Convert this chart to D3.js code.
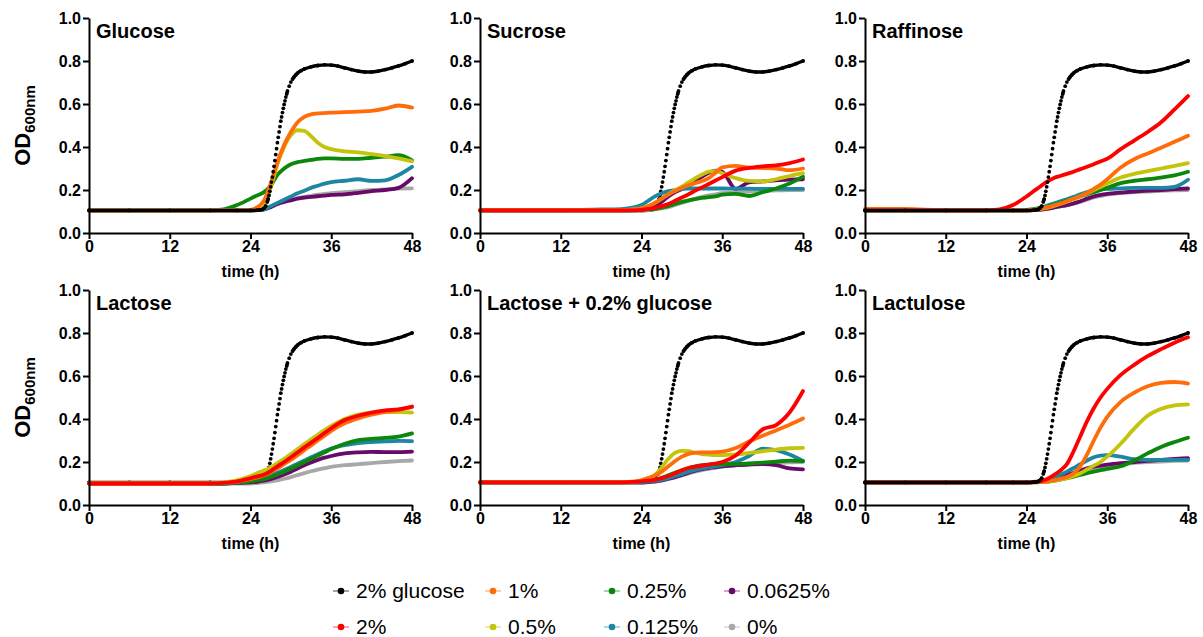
<!DOCTYPE html>
<html>
<head>
<meta charset="utf-8">
<script src="https://cdn.jsdelivr.net/npm/d3@7"></script>
<style>
  body { margin: 0; background: #fff; }
  svg { display: block; font-family: "Liberation Sans", Arial, sans-serif; }
</style>
</head>
<body>
<svg id="chart" width="1203" height="637"></svg>
<script>
// Sampling times (h) for the sugar series
const hours = [0, 6, 12, 18, 20, 22, 24, 25, 26, 27, 28, 29, 30, 31, 32, 33, 34, 35, 36, 38, 40, 42, 44, 46, 48];

// 2% glucose control, same in every panel (denser sampling through the exponential phase)
const controlHours = [0, 6, 12, 18, 22, 24, 25, 25.5, 25.75, 26, 26.25, 26.5, 26.625, 26.75, 26.875,
  27, 27.125, 27.25, 27.375, 27.5, 27.625, 27.75, 27.875, 28, 28.125, 28.25, 28.375, 28.5, 28.625,
  28.75, 28.875, 29, 29.125, 29.25, 29.375, 29.5, 29.75, 30, 30.25, 30.5, 30.75, 31, 31.5, 32,
  33, 34, 35, 36, 37, 38, 39, 40, 41, 42, 43, 44, 45, 46, 47, 48];
const controlOD = [0.105, 0.105, 0.105, 0.105, 0.105, 0.105, 0.106, 0.108, 0.11, 0.115, 0.125, 0.145, 0.158, 0.175, 0.194,
  0.215, 0.237, 0.26, 0.285, 0.31, 0.337, 0.365, 0.392, 0.42, 0.445, 0.47, 0.495, 0.52, 0.54,
  0.56, 0.58, 0.598, 0.615, 0.632, 0.647, 0.66, 0.683, 0.702, 0.716, 0.727, 0.736, 0.744, 0.755, 0.763,
  0.773, 0.779, 0.782, 0.781, 0.776, 0.768, 0.76, 0.753, 0.749, 0.749, 0.753, 0.76, 0.768, 0.777, 0.788, 0.8];

const controlName = "2% glucose";
const seriesNames = ["2%", "1%", "0.5%", "0.25%", "0.125%", "0.0625%", "0%"];
const seriesColors = ["#ff0000", "#ff6d0a", "#c4c40c", "#0b870b", "#1d87a3", "#680a68", "#a8a8a8"];
const controlColor = "#000000";

const panelTitles = ["Glucose", "Sucrose", "Raffinose", "Lactose", "Lactose + 0.2% glucose", "Lactulose"];
const controlOnTop = [true, false, true, false, false, true];

// OD600 per sugar, one row per concentration in seriesNames order
const glucoseOD = [
  null,
  [0.105,0.105,0.105,0.105,0.105,0.105,0.108,0.12,0.15,0.23,0.33,0.41,0.47,0.515,0.54,0.552,0.556,0.558,0.56,0.562,0.565,0.568,0.578,0.593,0.583],
  [0.105,0.105,0.105,0.105,0.105,0.105,0.105,0.105,0.12,0.21,0.32,0.40,0.455,0.478,0.475,0.45,0.42,0.40,0.39,0.38,0.375,0.367,0.358,0.347,0.333],
  [0.105,0.105,0.105,0.105,0.11,0.13,0.16,0.175,0.19,0.22,0.27,0.30,0.32,0.33,0.335,0.34,0.345,0.347,0.347,0.345,0.345,0.35,0.355,0.362,0.338],
  [0.105,0.105,0.105,0.105,0.105,0.105,0.105,0.107,0.11,0.125,0.14,0.155,0.17,0.185,0.197,0.21,0.22,0.23,0.237,0.243,0.25,0.242,0.245,0.27,0.308],
  [0.105,0.105,0.105,0.105,0.105,0.105,0.105,0.106,0.11,0.12,0.135,0.145,0.152,0.16,0.165,0.168,0.171,0.174,0.177,0.18,0.187,0.195,0.2,0.21,0.255],
  [0.105,0.105,0.105,0.105,0.105,0.105,0.105,0.107,0.11,0.122,0.135,0.145,0.155,0.162,0.168,0.173,0.178,0.182,0.185,0.19,0.195,0.2,0.203,0.206,0.208]
];
const sucroseOD = [
  [0.105,0.105,0.105,0.105,0.105,0.105,0.108,0.112,0.117,0.125,0.135,0.15,0.165,0.18,0.197,0.212,0.228,0.244,0.26,0.29,0.303,0.31,0.315,0.325,0.342],
  [0.105,0.105,0.105,0.105,0.105,0.108,0.115,0.125,0.14,0.16,0.18,0.195,0.21,0.222,0.232,0.242,0.255,0.28,0.305,0.312,0.304,0.302,0.3,0.292,0.3],
  [0.105,0.105,0.105,0.105,0.105,0.108,0.115,0.125,0.14,0.16,0.18,0.2,0.215,0.235,0.255,0.272,0.285,0.288,0.278,0.255,0.242,0.24,0.25,0.265,0.278],
  [0.105,0.105,0.105,0.105,0.105,0.105,0.107,0.11,0.112,0.118,0.125,0.135,0.145,0.152,0.158,0.163,0.167,0.17,0.178,0.182,0.172,0.19,0.207,0.23,0.262],
  [0.105,0.105,0.105,0.11,0.11,0.115,0.13,0.15,0.17,0.185,0.195,0.2,0.205,0.207,0.207,0.207,0.207,0.207,0.207,0.206,0.206,0.205,0.205,0.205,0.205],
  [0.105,0.105,0.105,0.105,0.105,0.106,0.11,0.115,0.125,0.145,0.17,0.19,0.205,0.22,0.24,0.262,0.28,0.29,0.285,0.205,0.235,0.24,0.245,0.248,0.25],
  [0.105,0.105,0.105,0.105,0.105,0.105,0.105,0.107,0.11,0.115,0.12,0.13,0.14,0.15,0.16,0.168,0.175,0.18,0.185,0.19,0.193,0.196,0.198,0.2,0.2]
];
const raffinoseOD = [
  [0.105,0.105,0.105,0.105,0.11,0.13,0.17,0.193,0.215,0.238,0.255,0.265,0.275,0.285,0.297,0.308,0.32,0.333,0.345,0.39,0.43,0.47,0.515,0.575,0.637],
  [0.112,0.112,0.105,0.105,0.105,0.105,0.106,0.108,0.113,0.12,0.128,0.137,0.148,0.16,0.172,0.187,0.205,0.225,0.25,0.305,0.343,0.37,0.396,0.424,0.452],
  [0.105,0.105,0.105,0.105,0.105,0.105,0.105,0.107,0.11,0.117,0.125,0.135,0.145,0.157,0.17,0.185,0.2,0.215,0.23,0.258,0.275,0.288,0.3,0.312,0.325],
  [0.105,0.105,0.105,0.105,0.105,0.105,0.107,0.11,0.115,0.122,0.13,0.14,0.15,0.16,0.17,0.18,0.19,0.2,0.21,0.232,0.243,0.25,0.258,0.268,0.285],
  [0.105,0.105,0.105,0.105,0.105,0.105,0.107,0.11,0.118,0.127,0.137,0.147,0.157,0.168,0.18,0.19,0.197,0.202,0.205,0.207,0.21,0.21,0.21,0.215,0.248],
  [0.105,0.105,0.105,0.105,0.105,0.105,0.105,0.106,0.108,0.112,0.118,0.124,0.13,0.138,0.148,0.16,0.17,0.177,0.182,0.188,0.193,0.197,0.2,0.204,0.207],
  [0.105,0.105,0.105,0.105,0.105,0.105,0.105,0.106,0.108,0.112,0.118,0.124,0.13,0.137,0.145,0.155,0.165,0.172,0.178,0.185,0.19,0.193,0.196,0.198,0.2]
];
const lactoseOD = [
  [0.1,0.1,0.1,0.1,0.103,0.11,0.125,0.133,0.142,0.158,0.18,0.2,0.222,0.245,0.268,0.29,0.312,0.335,0.357,0.395,0.415,0.43,0.44,0.445,0.458],
  [0.1,0.1,0.1,0.1,0.103,0.108,0.12,0.128,0.138,0.152,0.17,0.19,0.21,0.232,0.255,0.277,0.3,0.322,0.345,0.38,0.403,0.42,0.433,0.443,0.455],
  [0.1,0.1,0.1,0.1,0.105,0.115,0.135,0.148,0.16,0.175,0.195,0.215,0.237,0.26,0.283,0.305,0.327,0.348,0.368,0.4,0.42,0.43,0.432,0.432,0.43],
  [0.1,0.1,0.1,0.1,0.1,0.105,0.11,0.115,0.12,0.13,0.142,0.155,0.17,0.185,0.2,0.215,0.23,0.245,0.26,0.285,0.302,0.308,0.312,0.318,0.333],
  [0.1,0.1,0.1,0.1,0.1,0.105,0.112,0.12,0.128,0.138,0.15,0.163,0.177,0.192,0.207,0.222,0.236,0.25,0.262,0.278,0.288,0.293,0.296,0.298,0.297],
  [0.1,0.1,0.1,0.1,0.1,0.102,0.105,0.108,0.113,0.12,0.13,0.142,0.155,0.17,0.185,0.198,0.21,0.22,0.228,0.24,0.245,0.247,0.246,0.246,0.248],
  [0.1,0.1,0.1,0.1,0.1,0.1,0.1,0.102,0.105,0.11,0.115,0.122,0.13,0.139,0.148,0.157,0.165,0.171,0.177,0.185,0.19,0.195,0.2,0.204,0.207]
];
const lactoseGlucoseOD = [
  [0.105,0.105,0.105,0.105,0.105,0.106,0.11,0.113,0.117,0.125,0.135,0.148,0.162,0.172,0.178,0.183,0.188,0.193,0.2,0.23,0.29,0.352,0.372,0.43,0.53],
  [0.105,0.105,0.105,0.105,0.105,0.107,0.115,0.125,0.137,0.155,0.18,0.205,0.225,0.238,0.244,0.245,0.245,0.246,0.248,0.265,0.295,0.322,0.347,0.373,0.402],
  [0.105,0.105,0.105,0.105,0.105,0.105,0.115,0.125,0.14,0.175,0.215,0.243,0.252,0.25,0.242,0.237,0.234,0.232,0.232,0.235,0.242,0.25,0.258,0.264,0.266],
  [0.105,0.105,0.105,0.105,0.105,0.106,0.11,0.113,0.118,0.127,0.138,0.15,0.162,0.172,0.18,0.185,0.188,0.19,0.19,0.19,0.193,0.197,0.202,0.206,0.204],
  [0.105,0.105,0.105,0.105,0.105,0.105,0.107,0.109,0.112,0.118,0.125,0.135,0.145,0.155,0.163,0.17,0.175,0.18,0.185,0.2,0.228,0.262,0.255,0.235,0.205],
  [0.105,0.105,0.105,0.105,0.105,0.105,0.105,0.107,0.11,0.115,0.122,0.13,0.14,0.15,0.16,0.167,0.172,0.176,0.18,0.185,0.188,0.19,0.185,0.17,0.166],
  [0.105,0.105,0.105,0.105,0.105,0.105,0.105,0.106,0.108,0.113,0.12,0.128,0.138,0.147,0.155,0.162,0.168,0.173,0.178,0.185,0.19,0.193,0.195,0.198,0.2]
];
const lactuloseOD = [
  [0.105,0.105,0.105,0.105,0.105,0.105,0.105,0.108,0.11,0.12,0.138,0.16,0.19,0.25,0.32,0.39,0.45,0.5,0.54,0.605,0.652,0.692,0.725,0.755,0.78],
  [0.105,0.105,0.105,0.105,0.105,0.105,0.105,0.106,0.107,0.11,0.115,0.122,0.13,0.148,0.18,0.235,0.3,0.36,0.41,0.48,0.522,0.552,0.568,0.572,0.565],
  [0.105,0.105,0.105,0.105,0.105,0.105,0.105,0.105,0.106,0.108,0.112,0.118,0.125,0.135,0.148,0.165,0.183,0.2,0.225,0.285,0.355,0.415,0.447,0.463,0.468],
  [0.105,0.105,0.105,0.105,0.105,0.105,0.105,0.105,0.106,0.108,0.112,0.118,0.125,0.132,0.14,0.148,0.155,0.162,0.168,0.18,0.207,0.24,0.27,0.293,0.313],
  [0.105,0.105,0.105,0.105,0.105,0.105,0.105,0.106,0.108,0.115,0.125,0.14,0.155,0.172,0.19,0.207,0.222,0.23,0.232,0.225,0.213,0.21,0.21,0.21,0.21],
  [0.105,0.105,0.105,0.105,0.105,0.105,0.105,0.106,0.107,0.112,0.12,0.13,0.14,0.15,0.16,0.17,0.178,0.183,0.188,0.195,0.2,0.205,0.21,0.214,0.218],
  [0.105,0.105,0.105,0.105,0.105,0.105,0.105,0.106,0.107,0.112,0.118,0.126,0.135,0.145,0.155,0.164,0.172,0.178,0.183,0.19,0.196,0.199,0.202,0.205,0.207]
];

const xTicks = [0, 12, 24, 36, 48];
const yTicks = [0, 0.2, 0.4, 0.6, 0.8, 1.0];

// ---- layout ----
const colX = [89, 480, 865];
const rowY = [18, 290];
const plotW = 323, plotH = 215;

const panelData = [glucoseOD, sucroseOD, raffinoseOD, lactoseOD, lactoseGlucoseOD, lactuloseOD];

const svg = d3.select("#chart");
const x = d3.scaleLinear().domain([0, 48]).range([0, plotW]);
const y = d3.scaleLinear().domain([0, 1]).range([plotH, 0]);
const line = d3.line().x(d => x(d[0])).y(d => y(d[1])).curve(d3.curveMonotoneX);

// Control curve: points joined where the step is small, left as separate dots where it climbs steeply
function drawControl(g) {
  const pts = controlHours.map((t, i) => [t, controlOD[i]]);
  const runs = [];
  let run = [pts[0]];
  for (let i = 1; i < pts.length; i++) {
    if (Math.abs(y(pts[i][1]) - y(pts[i - 1][1])) < 3) run.push(pts[i]);
    else { runs.push(run); run = [pts[i]]; }
  }
  runs.push(run);
  const cg = g.append("g").attr("class", "control");
  cg.selectAll("path").data(runs.filter(r => r.length > 1)).join("path")
    .attr("d", line).attr("fill", "none").attr("stroke", controlColor)
    .attr("stroke-width", 3.4).attr("stroke-linecap", "round").attr("stroke-linejoin", "round");
  cg.selectAll("circle").data(pts).join("circle")
    .attr("cx", d => x(d[0])).attr("cy", d => y(d[1])).attr("r", 1.9).attr("fill", controlColor);
}

function drawSeries(g, od) {
  const sg = g.append("g").attr("class", "series");
  for (let k = seriesNames.length - 1; k >= 0; k--) {
    const vals = od[k];
    if (!vals) continue;
    const pts = hours.map((t, i) => [t, vals[i]]);
    sg.append("path").datum(pts).attr("d", line).attr("fill", "none")
      .attr("stroke", seriesColors[k]).attr("stroke-width", 3.8)
      .attr("stroke-linecap", "round").attr("stroke-linejoin", "round");
  }
}

panelData.forEach((od, i) => {
  const col = i % 3, row = Math.floor(i / 3);
  const g = svg.append("g").attr("transform", `translate(${colX[col]},${rowY[row]})`);

  if (!controlOnTop[i]) drawControl(g);
  drawSeries(g, od);
  if (controlOnTop[i]) drawControl(g);

  const xAxis = g.append("g").attr("transform", `translate(0,${plotH})`)
    .call(d3.axisBottom(x).tickValues(xTicks).tickSize(6).tickSizeOuter(0).tickPadding(2));
  const yAxis = g.append("g")
    .call(d3.axisLeft(y).tickValues(yTicks).tickFormat(d3.format(".1f")).tickSize(6).tickSizeOuter(0).tickPadding(2));
  [xAxis, yAxis].forEach(a => {
    a.select(".domain").attr("stroke", "#000").attr("stroke-width", 2);
    a.selectAll(".tick line").attr("stroke", "#000").attr("stroke-width", 2);
    a.selectAll(".tick text").attr("fill", "#000")
      .style("font-family", "'Liberation Sans', Arial, sans-serif")
      .style("font-size", "16px").style("font-weight", "bold");
  });

  g.append("text").attr("x", 7).attr("y", 20)
    .style("font-size", "20px").style("font-weight", "bold").attr("fill", "#000")
    .text(panelTitles[i]);

  g.append("text").attr("x", plotW / 2).attr("y", plotH + 44).attr("text-anchor", "middle")
    .style("font-size", "16px").style("font-weight", "bold").attr("fill", "#000")
    .text("time (h)");

  if (col === 0) {
    const t = g.append("text")
      .attr("transform", `translate(${30 - colX[0]},${plotH / 2}) rotate(-90)`)
      .attr("text-anchor", "middle")
      .style("font-size", "22px").style("font-weight", "bold").attr("fill", "#000");
    t.append("tspan").text("OD");
    t.append("tspan").attr("dy", 5).style("font-size", "15px").text("600nm");
  }
});

// ---- legend ----
const legendItems = [
  { name: controlName, color: controlColor },
  { name: seriesNames[1], color: seriesColors[1] },
  { name: seriesNames[3], color: seriesColors[3] },
  { name: seriesNames[5], color: seriesColors[5] },
  { name: seriesNames[0], color: seriesColors[0] },
  { name: seriesNames[2], color: seriesColors[2] },
  { name: seriesNames[4], color: seriesColors[4] },
  { name: seriesNames[6], color: seriesColors[6] }
];
const legendColX = [341, 493, 612, 732];
const legendRowY = [591, 627];

const lg = svg.append("g").attr("class", "legend");
legendItems.forEach((item, i) => {
  const cx = legendColX[i % 4], cy = legendRowY[Math.floor(i / 4)];
  const it = lg.append("g").attr("transform", `translate(${cx},${cy})`);
  it.append("line").attr("x1", -8).attr("x2", 8).attr("y1", 0).attr("y2", 0)
    .attr("stroke", item.color).attr("stroke-opacity", 0.35).attr("stroke-width", 2);
  it.append("circle").attr("r", 3.3).attr("fill", item.color);
  it.append("text").attr("x", 15).attr("dy", "0.35em")
    .style("font-size", "21px").attr("fill", "#000").text(item.name);
});
</script>
</body>
</html>
